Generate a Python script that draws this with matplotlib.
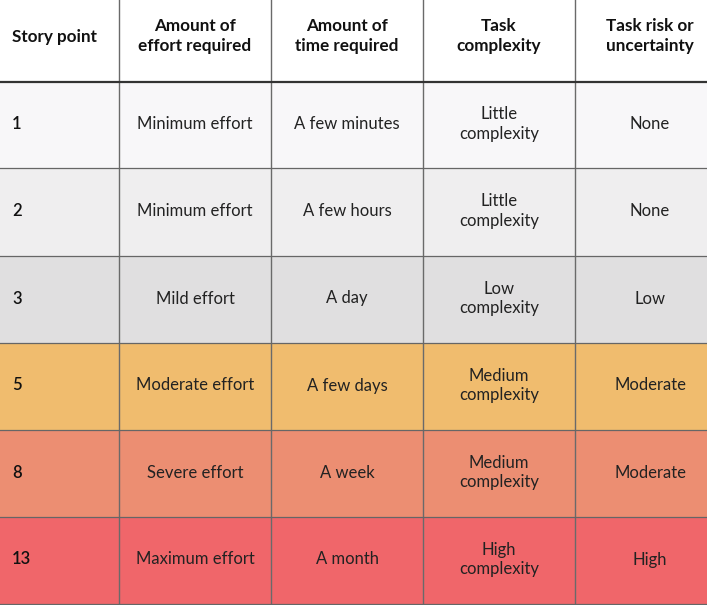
import matplotlib
matplotlib.use("Agg")
import matplotlib.pyplot as plt
from matplotlib.patches import Rectangle

plt.rcParams["font.family"] = ["Lato", "DejaVu Sans"]

headers = ["Story point", "Amount of\neffort required", "Amount of\ntime required",
           "Task\ncomplexity", "Task risk or\nuncertainty"]
story_points = ["1", "2", "3", "5", "8", "13"]
effort = ["Minimum effort", "Minimum effort", "Mild effort", "Moderate effort",
          "Severe effort", "Maximum effort"]
time_req = ["A few minutes", "A few hours", "A day", "A few days", "A week", "A month"]
complexity = ["Little\ncomplexity", "Little\ncomplexity", "Low\ncomplexity",
              "Medium\ncomplexity", "Medium\ncomplexity", "High\ncomplexity"]
risk = ["None", "None", "Low", "Moderate", "Moderate", "High"]
row_colors = ["#f8f7f9", "#efeeef", "#e0dfe0", "#f0bc6e", "#ec8e72", "#f0666a"]

# layout in pixels (figure is 707 x 605); the last column runs past the crop
col_edges = [0, 119, 271, 423, 575, 725]
row_edges = [0, 82, 168, 256, 343, 430, 517, 604]

fig = plt.figure(figsize=(7.07, 6.05), dpi=100)
ax = fig.add_axes([0, 0, 1, 1])
ax.set_xlim(0, 707)
ax.set_ylim(605, 0)
ax.axis("off")

columns = [story_points, effort, time_req, complexity, risk]

# row backgrounds
for i, color in enumerate(row_colors):
    y0, y1 = row_edges[i + 1], row_edges[i + 2]
    ax.add_patch(Rectangle((0, y0), 725, y1 - y0, facecolor=color, edgecolor="none"))

# header text
for j, h in enumerate(headers):
    x0, x1 = col_edges[j], col_edges[j + 1]
    yc = (row_edges[0] + row_edges[1]) / 2
    if j == 0:
        ax.text(12, yc - 4, h, ha="left", va="center", fontsize=12.3, weight="bold",
                color="#111111", linespacing=1.3)
    else:
        ax.text((x0 + x1) / 2, yc - 5, h, ha="center", va="center", fontsize=12.3,
                weight="bold", color="#111111", linespacing=1.3)

# body text
for j, col in enumerate(columns):
    x0, x1 = col_edges[j], col_edges[j + 1]
    for i, val in enumerate(col):
        yc = (row_edges[i + 1] + row_edges[i + 2]) / 2
        if j == 0:
            ax.text(12, yc - 1, val, ha="left", va="center", fontsize=12,
                    weight="semibold", color="#111111")
        else:
            ax.text((x0 + x1) / 2, yc - 1, val, ha="center", va="center", fontsize=12,
                    color="#222222", linespacing=1.3)

# grid lines
for x in col_edges[1:-1]:
    ax.plot([x, x], [0, 604], color="#6a6a6a", lw=1.0)
ax.plot([0, 707], [row_edges[1], row_edges[1]], color="#333333", lw=1.6)
for y in row_edges[2:]:
    ax.plot([0, 707], [y, y], color="#666666", lw=0.9)

fig.savefig("out.png", dpi=100)
